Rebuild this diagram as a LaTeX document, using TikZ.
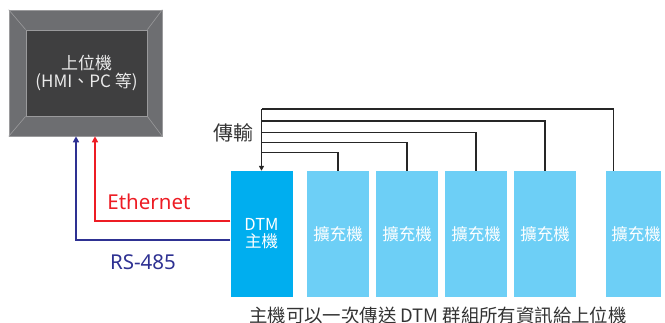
\documentclass[tikz,border=0pt]{standalone}
\usepackage{fontspec}
\setmainfont{Noto Sans CJK TC}
\newfontfamily\latinfont{Noto Sans}
\usetikzlibrary{arrows.meta,calc}
\definecolor{mframe}{HTML}{6D6E71}
\definecolor{minner}{HTML}{3F3F40}
\definecolor{medge}{HTML}{9A9A9C}
\definecolor{ethred}{HTML}{ED1C24}
\definecolor{rsblue}{HTML}{2E3192}
\definecolor{dtmblue}{HTML}{00AEEF}
\definecolor{expblue}{HTML}{6DCFF6}
\definecolor{txtgray}{HTML}{333333}
\tikzset{
  unitbox/.style={minimum width=62pt,minimum height=126pt,inner sep=0pt,text=white,align=center,
    font=\fontsize{16.5pt}{17pt}\selectfont},
  dtmbox/.style={unitbox,fill=dtmblue},
  expbox/.style={unitbox,fill=expblue},
  conn/.style={draw=black!85,line width=1.3pt},
  tip/.style={-{Triangle[width=5pt,length=5pt]}},
  wire/.style={line width=2pt,-{Triangle[width=6pt,length=6pt]}},
}
\begin{document}
\begin{tikzpicture}[x=1pt,y=-1pt]
\useasboundingbox (0,0) rectangle (665,323);
% monitor
\node[fill=mframe,draw=medge,line width=0.6pt,minimum width=153pt,minimum height=126pt,inner sep=0pt] (monitor) at (85.5,73) {};
\node[fill=minner,draw=medge,line width=0.8pt,minimum width=121pt,minimum height=86pt,inner sep=0pt,
  text=white!92!black,align=center,font=\fontsize{17pt}{18pt}\selectfont] (host) at (86.5,73)
  {上位機\\(HMI、PC 等)};
\draw[medge,line width=0.6pt] (monitor.north west) -- (host.north west)
  (monitor.north east) -- (host.north east)
  (monitor.south west) -- (host.south west)
  (monitor.south east) -- (host.south east);
% units
\node[dtmbox] (dtm) at (261.5,234) {DTM\\主機};
\node[expbox] (e1) at (338,234) {擴充機};
\node[expbox] (e2) at (407,234) {擴充機};
\node[expbox] (e3) at (476,234) {擴充機};
\node[expbox] (e4) at (545,234) {擴充機};
\node[expbox,minimum width=55pt,text width=55pt] (e5) at (633.5,234) {\hspace*{5pt}擴充機};
% transmission lines
\coordinate (top) at (dtm.north |- 0,109);
\draw[conn] (e1.north) |- (dtm.north |- 0,152.7);
\draw[conn] (e2.north) |- (dtm.north |- 0,142.3);
\draw[conn] (e3.north) |- (dtm.north |- 0,132.3);
\draw[conn] (e4.north) |- (dtm.north |- 0,121);
\draw[conn] ($(e5.north west)+(8,0)$) |- (top);
\draw[conn,tip] (top) -- (dtm.north);
\node[text=txtgray,font=\fontsize{20pt}{22pt}\selectfont,inner sep=0pt] (trans) at (233,133) {傳輸};
% ethernet / rs485
\draw[wire,ethred] ($(dtm.west)+(0,-13)$) -| ($(monitor.south)+(9.5,0)$);
\draw[wire,rsblue] ($(dtm.west)+(0,6)$) -| ($(monitor.south)+(-9.5,0)$);
\node[text=ethred,font=\latinfont\fontsize{20.5pt}{22pt}\selectfont,inner sep=0pt] (eth) at (149,202) {Ethernet};
\node[text=rsblue,font=\latinfont\fontsize{20.5pt}{22pt}\selectfont,inner sep=0pt] (rs) at (143,262) {RS-485};
% caption
\node[text=txtgray,font=\fontsize{18.4pt}{20pt}\selectfont,inner sep=0pt] (cap) at (438,315) {主機可以一次傳送 DTM 群組所有資訊給上位機};
\end{tikzpicture}
\end{document}
